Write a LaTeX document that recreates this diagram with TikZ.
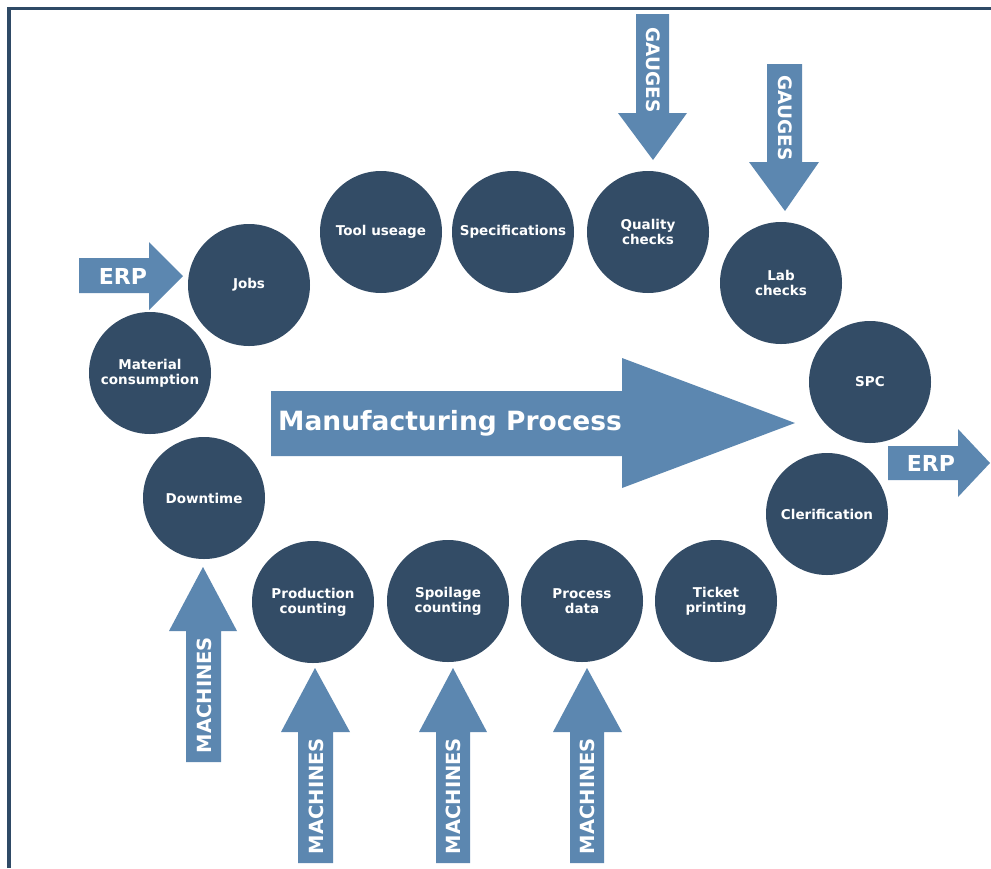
\documentclass[tikz,border=0pt]{standalone}
\usepackage{fontspec}
\setmainfont{DejaVu Sans}
\definecolor{circ}{HTML}{334C66}
\definecolor{arr}{HTML}{5C87B0}
\definecolor{frame}{HTML}{2F4A66}
\begin{document}
\begin{tikzpicture}[x=1pt,y=-1pt,
  stage/.style={circle,fill=circ,minimum size=122pt,inner sep=0pt,text=white,
    align=center,font=\fontsize{13.5}{15}\selectfont\bfseries},
  blk/.style={fill=arr},
  blktext/.style={text=white,inner sep=0pt,font=\fontsize{19.5}{22}\selectfont\bfseries}]
\useasboundingbox (0,0) rectangle (991,868);
\fill[white] (0,0) rectangle (991,868);
\draw[frame,line width=3.5pt] (9,868) -- (9,8.5) -- (991,8.5);

% block arrows
\fill[blk] (79,258) -- (149,258) -- (149,242) -- (183,276) -- (149,310) -- (149,293) -- (79,293) -- cycle;
\fill[blk] (888,446) -- (958,446) -- (958,429) -- (990,463) -- (958,497) -- (958,480) -- (888,480) -- cycle;
\fill[blk] (271,391) -- (622,391) -- (622,358) -- (795,423) -- (622,488) -- (622,456) -- (271,456) -- cycle;
\fill[blk] (636,14) -- (669,14) -- (669,113) -- (687,113) -- (653,160) -- (618,113) -- (636,113) -- cycle;
\fill[blk] (767,64) -- (802,64) -- (802,162) -- (819,162) -- (785,211) -- (749,162) -- (767,162) -- cycle;
\fill[blk] (186,762) -- (186,631) -- (169,631) -- (203,567) -- (237,631) -- (221,631) -- (221,762) -- cycle;
\fill[blk] (298,863) -- (298,732) -- (281,732) -- (315,668) -- (350,732) -- (333,732) -- (333,863) -- cycle;
\fill[blk] (436,863) -- (436,732) -- (419,732) -- (453,668) -- (487,732) -- (470,732) -- (470,863) -- cycle;
\fill[blk] (570,863) -- (570,732) -- (553,732) -- (587,668) -- (622,732) -- (604,732) -- (604,863) -- cycle;

\node[blktext,font=\fontsize{22}{24}\selectfont\bfseries] (erpin) at (123,276) {ERP};
\node[blktext,font=\fontsize{22}{24}\selectfont\bfseries] (erpout) at (931,463) {ERP};
\node[blktext,anchor=west,font=\fontsize{26.5}{28}\selectfont\bfseries] (mp) at (278,423) {Manufacturing Process};
\node[blktext,rotate=-90,font=\fontsize{18.5}{20}\selectfont\bfseries] (g1) at (653,70) {GAUGES};
\node[blktext,rotate=-90,font=\fontsize{18.5}{20}\selectfont\bfseries] (g2) at (785,118) {GAUGES};
\node[blktext,rotate=90] (m1) at (204,695) {MACHINES};
\node[blktext,rotate=90] (m2) at (316,796) {MACHINES};
\node[blktext,rotate=90] (m3) at (453,796) {MACHINES};
\node[blktext,rotate=90] (m4) at (587,796) {MACHINES};

% stages
\node[stage] (jobs) at (249,285) {Jobs};
\node[stage] (tool) at (381,232) {Tool useage};
\node[stage] (spec) at (513,232) {Specifications};
\node[stage] (qual) at (648,232) {Quality\\checks};
\node[stage] (lab) at (781,283) {Lab\\checks};
\node[stage] (spc) at (870,382) {SPC};
\node[stage] (cler) at (827,514) {Clerification};
\node[stage] (tick) at (716,601) {Ticket\\printing};
\node[stage] (proc) at (582,601) {Process\\data};
\node[stage] (spoil) at (448,601) {Spoilage\\counting};
\node[stage] (prod) at (313,602) {Production\\counting};
\node[stage] (down) at (204,498) {Downtime};
\node[stage] (mat) at (150,373) {Material\\consumption};
\end{tikzpicture}
\end{document}
